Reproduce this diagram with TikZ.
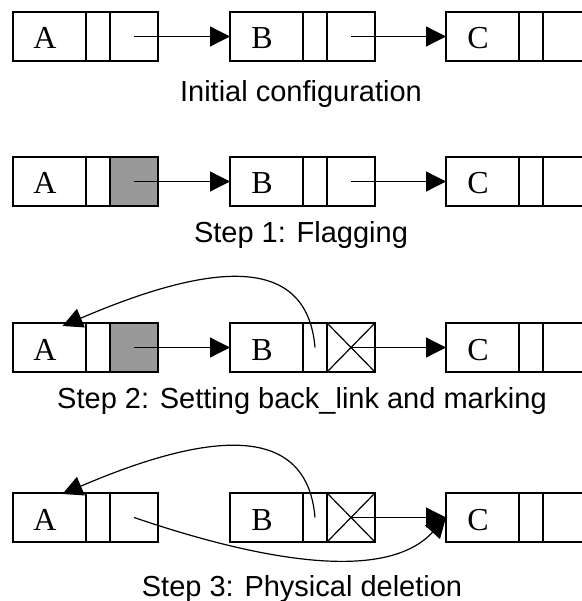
\documentclass[tikz,border=0pt]{standalone}
\usepackage{fontspec}
\setmainfont{Liberation Serif}
\newfontfamily\capfont{Liberation Sans}
\usetikzlibrary{arrows.meta,calc}

\definecolor{flaggray}{RGB}{153,153,153}

\tikzset{
  cellbase/.style={draw, line width=1.2pt, rectangle, inner sep=0pt, outer sep=0pt,
                   minimum height=49pt},
  datacell/.style={cellbase, minimum width=73pt},
  markcell/.style={cellbase, minimum width=24pt},
  ptrcell/.style={cellbase, minimum width=48pt},
  flagged/.style={fill=flaggray},
  crossed/.style={path picture={
      \draw[line width=1.2pt] (path picture bounding box.north west) -- (path picture bounding box.south east)
                              (path picture bounding box.north east) -- (path picture bounding box.south west);}},
  keytext/.style={anchor=base, inner sep=0pt, font=\fontsize{32}{34}\selectfont},
  caption/.style={anchor=base, inner sep=0pt, font=\capfont\fontsize{29}{31}\selectfont},
  link/.style={line width=1.2pt, -{Triangle[length=20pt,width=20pt]}},
}

% \listnode{name}{x}{y}{key}{style of pointer cell}
\newcommand\listnode[5]{%
  \node[datacell, anchor=north west] (#1d) at (#2,#3) {};
  \node[markcell, anchor=west] (#1m) at (#1d.east) {};
  \node[ptrcell, anchor=west, #5] (#1p) at (#1m.east) {};
  \node[keytext] (#1k) at ($(#1d.north west)+(32,37)$) {#4};
}

\begin{document}
\begin{tikzpicture}[x=1pt, y=-1pt]
  \useasboundingbox (0,0) rectangle (581,601);

  % Initial configuration
  \listnode{a1}{13}{12}{A}{}
  \listnode{b1}{230}{12}{B}{}
  \listnode{c1}{446}{12}{C}{}
  \draw[link] (a1p.center) -- (b1d.west);
  \draw[link] (b1p.center) -- (c1d.west);
  \node[caption] (cap1) at (301,102) {Initial configuration};

  % Step 1: flagging
  \listnode{a2}{13}{157}{A}{flagged}
  \listnode{b2}{230}{157}{B}{}
  \listnode{c2}{446}{157}{C}{}
  \draw[link] (a2p.center) -- (b2d.west);
  \draw[link] (b2p.center) -- (c2d.west);
  \node[caption] (cap2) at (301,243) {Step 1: Flagging};

  % Step 2: back link and marking
  \listnode{a3}{13}{323}{A}{flagged}
  \listnode{b3}{230}{323}{B}{crossed}
  \listnode{c3}{446}{323}{C}{}
  \draw[link] (a3p.center) -- (b3d.west);
  \draw[link] (b3p.center) -- (c3d.west);
  \coordinate (back3) at ($(a3d.north)+(13,3)$);
  \draw[link] (b3m.center) .. controls +(-8,-95) and +(147,-63) .. (back3);
  \node[caption] (cap3) at (302,408) {Step 2: Setting back\_link and marking};

  % Step 3: physical deletion
  \listnode{a4}{13}{493}{A}{}
  \listnode{b4}{230}{493}{B}{crossed}
  \listnode{c4}{446}{493}{C}{}
  \draw[link] (b4p.center) -- (c4d.west);
  \coordinate (back4) at ($(a4d.north)+(13,1)$);
  \draw[link] (b4m.center) .. controls +(-8,-95) and +(147,-63) .. (back4);
  \draw[link] (a4p.center) .. controls +(97,33) and +(-66,72) .. (c4d.west);
  \node[caption] (cap4) at (302,596) {Step 3: Physical deletion};
\end{tikzpicture}
\end{document}
